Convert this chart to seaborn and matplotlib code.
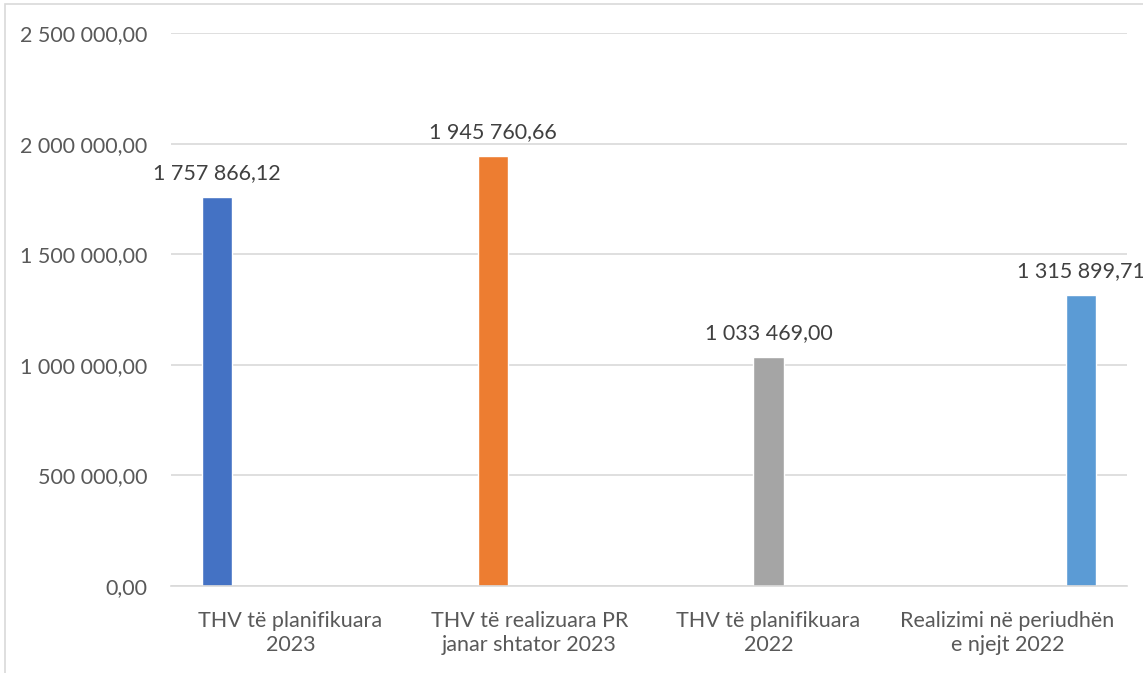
import matplotlib
matplotlib.use("Agg")
import matplotlib.pyplot as plt
from matplotlib.patches import Rectangle
import pandas as pd
import seaborn as sns

# data
categories = ["THV të planifikuara\n2023",
              "THV të realizuara PR\njanar shtator 2023",
              "THV të planifikuara\n2022",
              "Realizimi në periudhën\ne njejt 2022"]
values = [1757866.12, 1945760.66, 1033469.00, 1315899.71]
# the original excel chart has 5 series, series 4 is empty
series = ["Seria 1", "Seria 2", "Seria 3", "Seria 5"]
series_order = ["Seria 1", "Seria 2", "Seria 3", "Seria 4", "Seria 5"]
series_colors = ["#4472C4", "#ED7D31", "#A5A5A5", "#FFC000", "#5B9BD5"]
y_ticks = [0, 500000, 1000000, 1500000, 2000000, 2500000]


def fmt_num(v):
    return f"{v:,.2f}".replace(",", " ").replace(".", ",")


sns.set_theme(style="white")
plt.rcParams["font.family"] = ["Lato", "DejaVu Sans"]
FS = 15.5

fig = plt.figure(figsize=(11.43, 6.73), dpi=100)
ax = fig.add_axes([171 / 1143, 1 - 586 / 673, (1127 - 171) / 1143, (586 - 33) / 673])

df = pd.DataFrame({"kategoria": categories, "seria": series, "vlera": values})
sns.barplot(data=df, x="kategoria", y="vlera", hue="seria", hue_order=series_order,
            order=categories, palette=series_colors, saturation=1,
            width=0.77, gap=0.18, dodge=True, legend=False, ax=ax)

# data labels
for c in ax.containers:
    ax.bar_label(c, fmt=fmt_num, padding=10, fontsize=FS, color="#404040")

ax.set_ylim(0, 2500000)
ax.set_yticks(y_ticks)
ax.set_yticklabels([fmt_num(t) for t in y_ticks])
ax.set_xlabel("")
ax.set_ylabel("")
ax.grid(axis="y", color="#D9D9D9", linewidth=1.2)
ax.set_axisbelow(True)
for s in ["top", "right", "left"]:
    ax.spines[s].set_visible(False)
ax.spines["bottom"].set_color("#D9D9D9")
ax.spines["bottom"].set_linewidth(1.2)
ax.tick_params(axis="both", length=0, labelsize=FS, labelcolor="#595959")
ax.tick_params(axis="y", pad=17)
ax.tick_params(axis="x", pad=18)
for lbl in ax.get_xticklabels():
    lbl.set_linespacing(1.22)

# chart area border (cut on the right and bottom)
fig.add_artist(Rectangle((5 / 1143, -0.05), 1.2, 0.05 + 1 - 4.5 / 673,
                         transform=fig.transFigure, fill=False,
                         edgecolor="#D9D9D9", linewidth=1.2))

fig.savefig("out.png", dpi=100)
